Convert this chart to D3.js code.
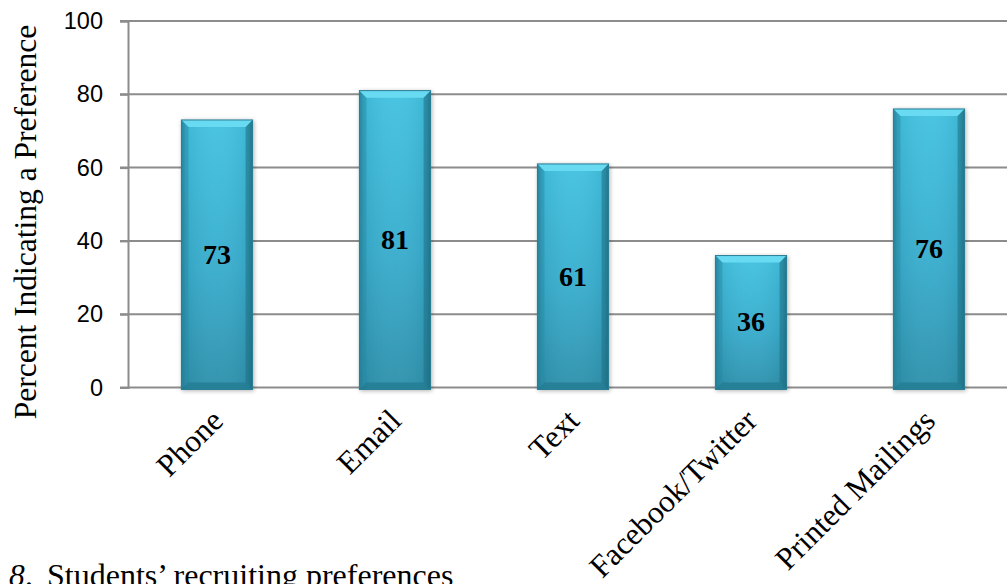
<!DOCTYPE html>
<html>
<head>
<meta charset="utf-8">
<script src="https://cdn.jsdelivr.net/npm/d3@7"></script>
<style>
  html, body { margin: 0; padding: 0; background: #fff; overflow: hidden; }
  svg { display: block; }
</style>
</head>
<body>
<svg id="chart" width="1007" height="584"></svg>
<script>
// Recruiting channel preferences (percent of students)
const categories = ["Phone", "Email", "Text", "Facebook/Twitter", "Printed Mailings"];
const values = [73, 81, 61, 36, 76];
const yTicks = [0, 20, 40, 60, 80, 100];
const yTitle = "Percent Indicating a Preference";
const caption = "Students\u2019 recruiting preferences";
const captionNumber = "8";

const W = 1007, H = 584;
const svg = d3.select("#chart");
const serif = "'Liberation Serif', 'Times New Roman', serif";

const x = d3.scaleBand().domain(categories).range([128, 1018]).paddingInner(0.6).paddingOuter(0.3);
const y = d3.scaleLinear().domain([0, 100]).range([387.5, 21]);

const defs = svg.append("defs");
const body = defs.append("linearGradient").attr("id", "barBody").attr("x1", 0).attr("y1", 0).attr("x2", 0).attr("y2", 1);
body.append("stop").attr("offset", "0%").attr("stop-color", "#41c2e1");
body.append("stop").attr("offset", "55%").attr("stop-color", "#37accd");
body.append("stop").attr("offset", "100%").attr("stop-color", "#2d90ab");

const side = defs.append("linearGradient").attr("id", "barSide").attr("x1", 0).attr("y1", 0).attr("x2", 1).attr("y2", 0);
side.append("stop").attr("offset", "0%").attr("stop-color", "#1f6678").attr("stop-opacity", 0.7);
side.append("stop").attr("offset", "7%").attr("stop-color", "#1f6678").attr("stop-opacity", 0.12);
side.append("stop").attr("offset", "50%").attr("stop-color", "#ffffff").attr("stop-opacity", 0.04);
side.append("stop").attr("offset", "93%").attr("stop-color", "#1f6678").attr("stop-opacity", 0.12);
side.append("stop").attr("offset", "100%").attr("stop-color", "#1f6678").attr("stop-opacity", 0.7);

const shadow = defs.append("filter").attr("id", "shadow").attr("x", "-20%").attr("y", "-5%").attr("width", "140%").attr("height", "110%");
shadow.append("feGaussianBlur").attr("in", "SourceAlpha").attr("stdDeviation", 2);
shadow.append("feOffset").attr("dx", 1).attr("dy", 1).attr("result", "b");
shadow.append("feComponentTransfer").append("feFuncA").attr("type", "linear").attr("slope", 0.3);
const merge = shadow.append("feMerge");
merge.append("feMergeNode");
merge.append("feMergeNode").attr("in", "SourceGraphic");

// Gridlines
svg.append("g").selectAll("line").data(yTicks).join("line")
  .attr("x1", 120).attr("x2", W)
  .attr("y1", d => y(d)).attr("y2", d => y(d))
  .attr("stroke", "#8c8c8c").attr("stroke-width", 2);

// Y axis
const yAxis = svg.append("g").attr("transform", "translate(128,0)")
  .call(d3.axisLeft(y).tickValues(yTicks).tickSize(8).tickPadding(17));
yAxis.select(".domain").attr("stroke", "#8c8c8c").attr("stroke-width", 2);
yAxis.selectAll(".tick line").attr("stroke", "#8c8c8c").attr("stroke-width", 2);
yAxis.selectAll(".tick text")
  .attr("font-family", "'Liberation Sans', Arial, sans-serif")
  .attr("font-size", 23.5).attr("fill", "#000");

// Bars with bevel
const bev = 7;
const bars = svg.append("g").selectAll("g").data(categories).join("g").attr("filter", "url(#shadow)");
bars.each(function (c, i) {
  const g = d3.select(this);
  const x0 = x(c), w = x.bandwidth(), y0 = y(values[i]), y1 = y(0) + 2;
  g.append("rect").attr("x", x0).attr("y", y0).attr("width", w).attr("height", y1 - y0).attr("fill", "url(#barBody)");
  g.append("rect").attr("x", x0).attr("y", y0).attr("width", w).attr("height", y1 - y0).attr("fill", "url(#barSide)");
  g.append("path")
    .attr("d", `M${x0},${y0} L${x0 + w},${y0} L${x0 + w - bev},${y0 + bev} L${x0 + bev},${y0 + bev} Z`)
    .attr("fill", "#68dbf3");
  g.append("path")
    .attr("d", `M${x0},${y0} L${x0 + bev},${y0 + bev} L${x0 + bev},${y1 - bev} L${x0},${y1} Z`)
    .attr("fill", "#2a8aa3").attr("opacity", 0.5);
  g.append("path")
    .attr("d", `M${x0 + w},${y0} L${x0 + w - bev},${y0 + bev} L${x0 + w - bev},${y1 - bev} L${x0 + w},${y1} Z`)
    .attr("fill", "#1f6e82").attr("opacity", 0.55);
  g.append("path")
    .attr("d", `M${x0},${y1} L${x0 + bev},${y1 - bev} L${x0 + w - bev},${y1 - bev} L${x0 + w},${y1} Z`)
    .attr("fill", "#237c92").attr("opacity", 0.8);
  g.append("rect").attr("x", x0).attr("y", y0).attr("width", w).attr("height", y1 - y0)
    .attr("fill", "none").attr("stroke", "#2a7e93").attr("stroke-width", 1);
});

// Value labels centred in each bar
svg.append("g").selectAll("text").data(categories).join("text")
  .attr("x", c => x(c) + x.bandwidth() / 2)
  .attr("y", (c, i) => (y(values[i]) + y(0)) / 2)
  .attr("dy", "0.35em")
  .attr("text-anchor", "middle")
  .attr("font-family", serif)
  .attr("font-weight", "bold").attr("font-size", 28)
  .text((c, i) => values[i]);

// Category labels, rotated
svg.append("g").selectAll("text").data(categories).join("text")
  .attr("transform", c => `translate(${x(c) + x.bandwidth() / 2 + 8},${y(0) + 35}) rotate(-45)`)
  .attr("text-anchor", "end")
  .attr("font-family", serif)
  .attr("font-size", 31.5)
  .text(c => c);

// Y axis title
svg.append("text")
  .attr("transform", `translate(36,222) rotate(-90)`)
  .attr("text-anchor", "middle")
  .attr("font-family", serif)
  .attr("font-size", 31.5)
  .text(yTitle);

// Figure caption
svg.append("text").attr("x", 9).attr("y", 586)
  .attr("font-family", serif)
  .attr("font-size", 31.5).attr("font-style", "italic")
  .text(captionNumber);
svg.append("text").attr("x", 25).attr("y", 586)
  .attr("font-family", serif)
  .attr("font-size", 31.5)
  .text(".");
svg.append("text").attr("x", 47).attr("y", 586)
  .attr("font-family", serif)
  .attr("font-size", 32)
  .text(caption);
</script>
</body>
</html>
